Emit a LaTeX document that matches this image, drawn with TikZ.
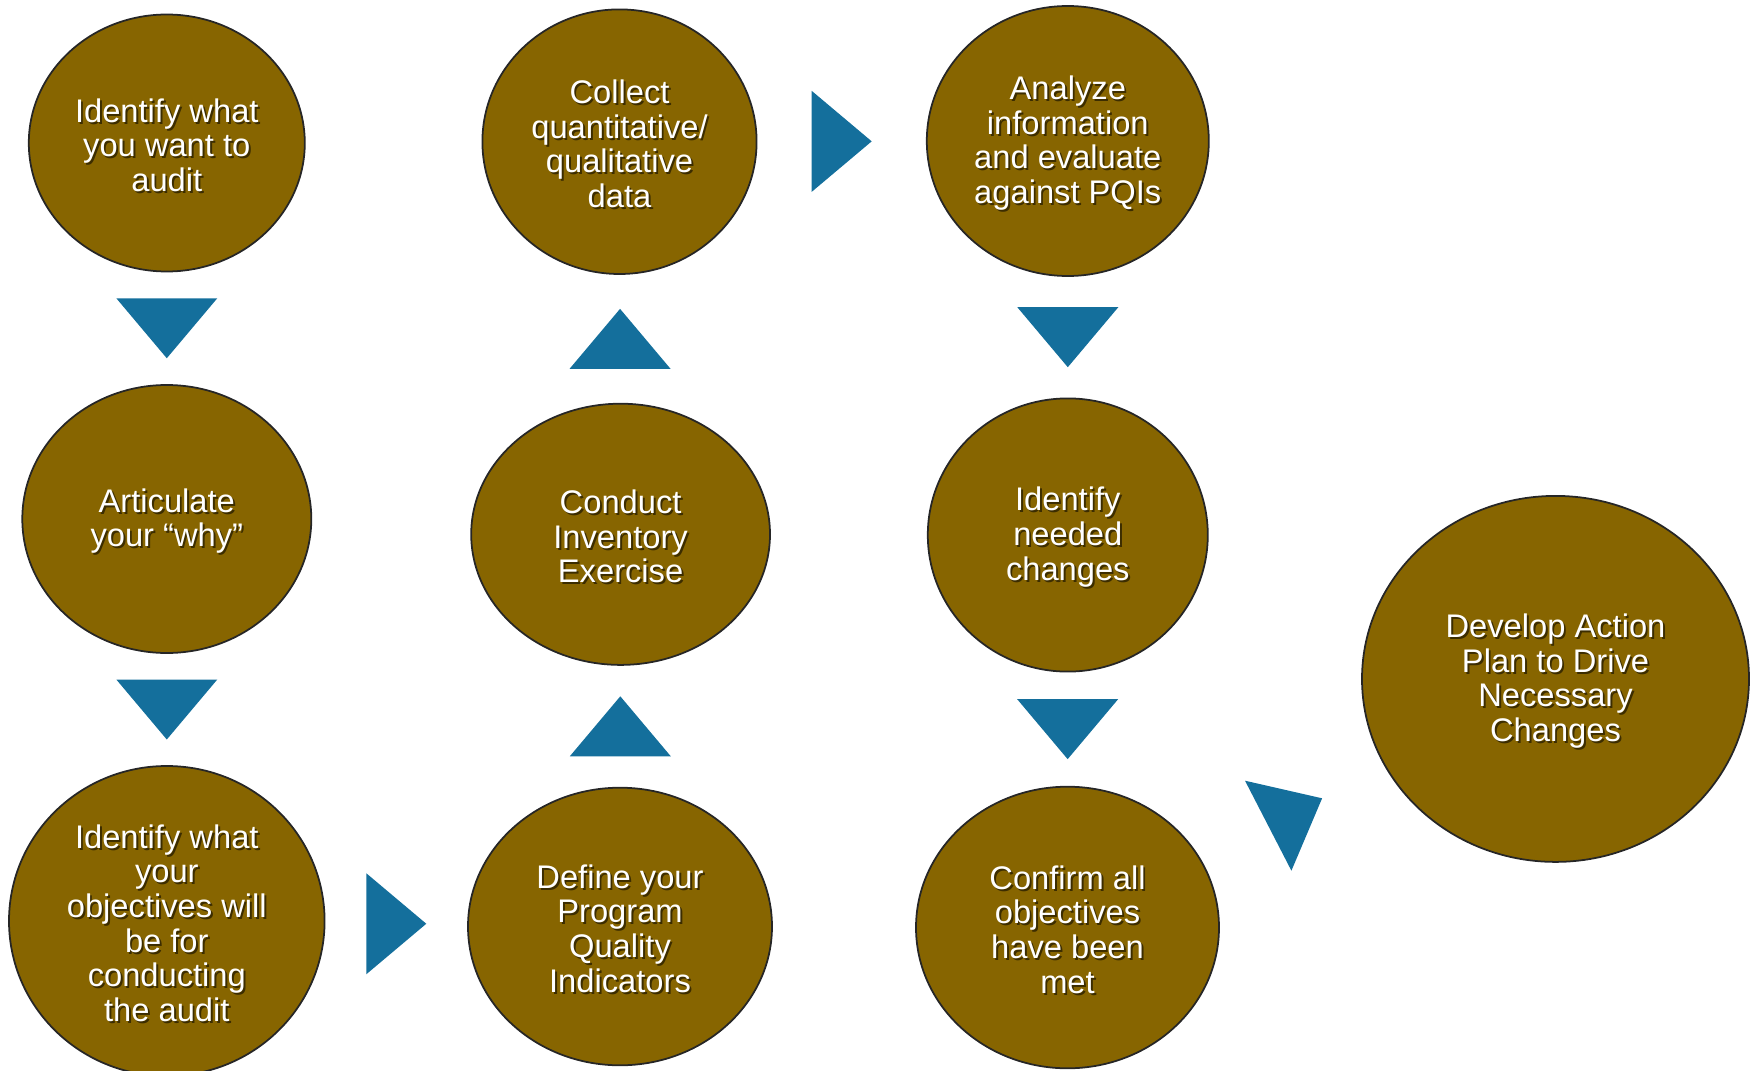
\documentclass[tikz,border=0pt]{standalone}
\usepackage{fontspec}
\setmainfont{Liberation Sans}
\usetikzlibrary{shapes.geometric, calc}
\definecolor{stagebrown}{RGB}{135,101,0}
\definecolor{arrowblue}{RGB}{20,111,156}

\tikzset{
	bubble/.style={ellipse, draw=black!85, line width=0.5pt, fill=stagebrown, inner sep=0pt},
	bubbletext/.style={text=white, align=center, inner sep=0pt, yshift=-0.6pt, font=\fontsize{9.3}{9.85}\selectfont},
	bubbleshadow/.style={bubbletext, text=black, text opacity=0.55, xshift=0.55pt, yshift=-0.55pt},
	stage/.style={bubble, label={[bubbleshadow]center:{#1}}, label={[bubbletext]center:{#1}}},
	tri/.pic={\fill[arrowblue] (-0.3,0.505) -- (0.3,0) -- (-0.3,-0.505) -- cycle;}
}

\begin{document}
\begin{tikzpicture}
		\useasboundingbox (0,0) rectangle (17.55,10.70);
		\node[stage={Identify what\\you want to\\audit}, minimum width=2.76cm, minimum height=2.57cm] (audit) at (1.668,9.27) {};
		\node[stage={Articulate\\your “why”}, minimum width=2.89cm, minimum height=2.68cm] (why) at (1.668,5.51) {};
		\node[stage={Identify what\\your\\objectives will\\be for\\conducting\\the audit}, minimum width=3.156cm, minimum height=3.1cm] (objectives) at (1.668,1.49) {};
		\node[stage={Define your\\Program\\Quality\\Indicators}, minimum width=3.04cm, minimum height=2.776cm] (pqi) at (6.20,1.435) {};
		\node[stage={Conduct\\Inventory\\Exercise}, minimum width=2.988cm, minimum height=2.612cm] (inventory) at (6.206,5.357) {};
		\node[stage={Collect\\quantitative/\\qualitative\\data}, minimum width=2.742cm, minimum height=2.646cm] (collect) at (6.195,9.283) {};
		\node[stage={Analyze\\information\\and evaluate\\against PQIs}, minimum width=2.82cm, minimum height=2.70cm] (analyze) at (10.678,9.29) {};
		\node[stage={Identify\\needed\\changes}, minimum width=2.80cm, minimum height=2.732cm] (changes) at (10.678,5.35) {};
		\node[stage={Confirm all\\objectives\\have been\\met}, minimum width=3.03cm, minimum height=2.816cm] (confirm) at (10.675,1.425) {};
		\node[stage={Develop Action\\Plan to Drive\\Necessary\\Changes}, minimum width=3.87cm, minimum height=3.66cm] (plan) at (15.555,3.911) {};

		\path ($(audit.south)!0.5!(why.north)$) pic[rotate=-90] {tri};
		\path ($(why.south)!0.5!(objectives.north)$) pic[rotate=-90] {tri};
		\path ($(objectives.east)!0.5!(pqi.west)$) pic {tri};
		\path ($(pqi.north)!0.5!(inventory.south)$) pic[rotate=90] {tri};
		\path ($(inventory.north)!0.5!(collect.south)$) pic[rotate=90] {tri};
		\path ($(collect.east)!0.5!(analyze.west)$) pic {tri};
		\path ($(analyze.south)!0.5!(changes.north)$) pic[rotate=-90] {tri};
		\path ($(changes.south)!0.5!(confirm.north)$) pic[rotate=-90] {tri};
		\coordinate (turn) at ($(confirm)!0.5!(plan)$);
		\fill[arrowblue] (turn) ++(-0.665,0.225) -- ++(0.771,-0.176) -- ++(-0.307,-0.724) -- cycle;
	\end{tikzpicture}
\end{document}
